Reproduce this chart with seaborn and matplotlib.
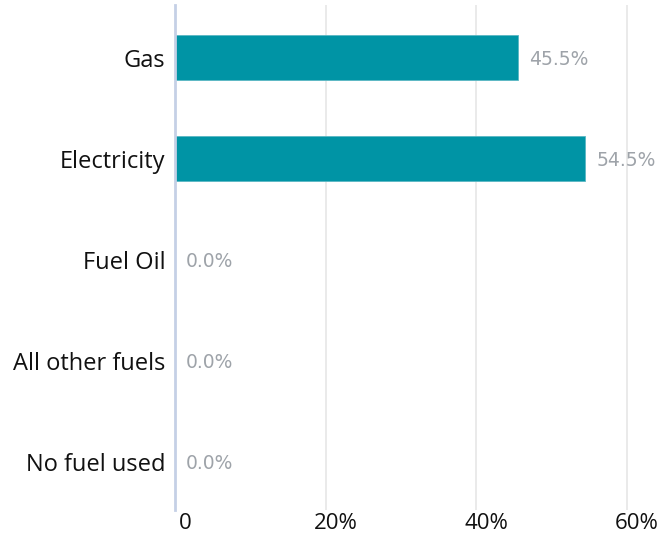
import matplotlib
matplotlib.use("Agg")
import matplotlib.pyplot as plt
import matplotlib.transforms as mtransforms
import seaborn as sns
import pandas as pd

categories = ["Gas", "Electricity", "Fuel Oil", "All other fuels", "No fuel used"]
values = [45.5, 54.5, 0.0, 0.0, 0.0]
xticks = [0, 20, 40, 60]
xtick_labels = ["0", "20%", "40%", "60%"]

df = pd.DataFrame({"category": categories, "value": values})

sns.set_style("white")
plt.rcParams['font.family'] = ['Open Sans', 'DejaVu Sans']

fig = plt.figure(figsize=(6.69, 5.39), dpi=100)
ax = fig.add_axes([175/669, 1-510/539, (645-175)/669, (510-5)/539])

sns.barplot(data=df, x="value", y="category", orient="h", color="#0094a5",
            width=0.45, saturation=1, ax=ax, edgecolor="#5ab7c3", linewidth=0.6)

ax.set_xlim(0, 62.4)
ax.set_ylim(4.48, -0.52)
ax.set_xticks(xticks)
ax.set_xticklabels(xtick_labels)
ax.set_xlabel("")
ax.set_ylabel("")
ax.grid(axis="x", color="#e6e6e6", linewidth=1.2)
ax.set_axisbelow(True)
for s in ["top", "right", "bottom"]:
    ax.spines[s].set_visible(False)
ax.spines["left"].set_color("#c5d0e6")
ax.spines["left"].set_linewidth(2)
ax.tick_params(axis="y", length=0, pad=7, labelsize=17, labelcolor="#111111")
ax.tick_params(axis="x", length=0, pad=2.5, labelsize=16, labelcolor="#111111")

shift = mtransforms.ScaledTranslation(10/100, 0, fig.dpi_scale_trans)
for lbl in ax.get_xticklabels():
    lbl.set_transform(lbl.get_transform() + shift)

for i, v in enumerate(values):
    ax.annotate(f"{v:.1f}%", xy=(v, i), xytext=(8, -1.5), textcoords="offset points",
                ha="left", va="center", fontsize=13.5, color="#9ea3a9",
                family="DejaVu Sans")

fig.savefig("out.png", dpi=100)
